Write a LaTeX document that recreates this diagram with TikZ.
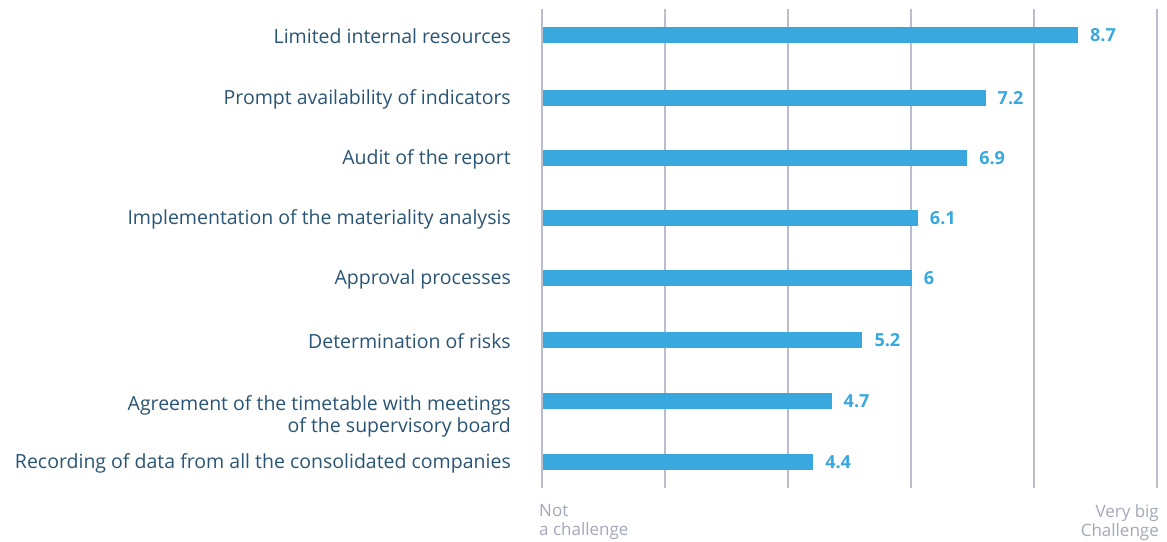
\documentclass[tikz,border=0pt]{standalone}
\usepackage{fontspec}
\setmainfont{Open Sans}
\definecolor{labelc}{HTML}{2A5474}
\definecolor{barc}{HTML}{38A8DF}
\definecolor{gridc}{HTML}{BABDCC}
\definecolor{axisc}{HTML}{A3A7BA}
\begin{document}
\begin{tikzpicture}[x=1pt,y=-1pt,
  gridline/.style={draw=gridc,line width=1.5pt},
  barbox/.style={fill=barc,draw=none},
  lbl/.style={text=labelc,font=\fontsize{19.5}{22}\selectfont,inner sep=0pt,anchor=east},
  val/.style={text=barc,font=\fontsize{18}{22}\selectfont\bfseries,inner sep=0pt,anchor=west},
  axlbl/.style={text=axisc,font=\fontsize{17}{19.5}\selectfont,inner sep=0pt}]
\useasboundingbox (0,0) rectangle (1167,541);
% grid
\foreach \i in {0,...,5}{
  \draw[gridline] ({542+123*\i},9) -- ({542+123*\i},488);
}
% bars
\foreach \v/\y/\n in {8.7/35/a,7.2/98/b,6.9/158/c,6.1/218/d,6/278/e,5.2/340/f,4.7/401/g,4.4/462/h}{
  \path[barbox] (543,\y-8) rectangle ({542+61.6*\v},\y+8);
  \coordinate (e\n) at ({542+61.6*\v},\y);
  \node[val] (v\n) at ([xshift=12pt]e\n) {\v};
}
\node[lbl] (la) at (511,36) {Limited internal resources};
\node[lbl] (lb) at (511,99) {Prompt availability of indicators};
\node[lbl] (lc) at (511,159) {Audit of the report};
\node[lbl] (ld) at (511,219) {Implementation of the materiality analysis};
\node[lbl] (le) at (511,279) {Approval processes};
\node[lbl] (lf) at (511,341) {Determination of risks};
\node[lbl,anchor=north east,align=right] (lg) at (511,395) {Agreement of the timetable with meetings\\of the supervisory board};
\node[lbl] (lh) at (511,463) {Recording of data from all the consolidated companies};
\node[axlbl,anchor=north west,align=left] (nc) at (539,504) {Not\\a challenge};
\node[axlbl,anchor=north east,align=right] (vb) at (1159,504) {Very big\\Challenge};
\end{tikzpicture}
\end{document}
